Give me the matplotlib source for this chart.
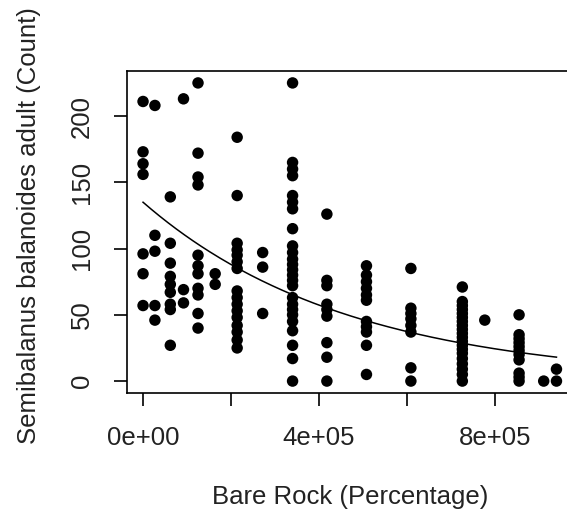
import numpy as np
import matplotlib
matplotlib.use("Agg")
import matplotlib.pyplot as plt

plt.rcParams["font.family"] = ["Liberation Sans", "DejaVu Sans"]

# bare rock values (one entry per sampled level) and barnacle counts at each level
bare_rock = [0, 27000, 62000, 92000, 125000, 164000, 214000, 272000, 340000,
             418000, 508000, 609000, 726000, 777000, 855000, 911000, 940000]
counts = [
    [211, 173, 164, 156, 96, 81, 57],
    [208, 110, 98, 57, 46],
    [139, 104, 89, 79, 73, 67, 58, 54, 27],
    [213, 69, 59],
    [225, 172, 154, 148, 95, 87, 81, 70, 65, 51, 40],
    [81, 73],
    [184, 140, 104, 99, 95, 90, 85, 68, 63, 58, 53, 48, 42, 37, 31, 25],
    [97, 86, 51],
    [225, 165, 160, 155, 140, 135, 130, 115, 102, 97, 92, 88, 84, 80, 76, 72,
     63, 58, 54, 50, 45, 38, 27, 17, 0],
    [126, 76, 72, 58, 54, 49, 29, 18, 0],
    [87, 80, 75, 70, 65, 61, 45, 41, 37, 27, 5],
    [85, 55, 51, 47, 42, 37, 10, 0],
    [71, 60, 57, 54, 51, 48, 45, 42, 39, 36, 33, 30, 27, 24, 21, 17, 13, 9, 5, 0],
    [46],
    [50, 35, 32, 29, 26, 23, 20, 16, 6, 3, 0],
    [0],
    [9, 0],
]

# poisson glm fit (log link)
glm_intercept = 4.905
glm_slope = -2.14e-6

x_ticks = [0, 200000, 400000, 600000, 800000]
x_tick_labels = ["0e+00", "", "4e+05", "", "8e+05"]
y_ticks = [0, 50, 100, 150, 200]
y_tick_labels = ["0", "50", "100", "150", "200"]

x = np.concatenate([[b] * len(c) for b, c in zip(bare_rock, counts)])
y = np.concatenate(counts)

W, H = 567, 515
fig = plt.figure(figsize=(W / 100, H / 100), dpi=100)
left, right, top, bottom = 126.5, 573, 71, 393
ax = fig.add_axes([left / W, 1 - bottom / H, (right - left) / W, (bottom - top) / H])

ax.scatter(x, y, s=68, color="black", edgecolors="none", zorder=3)

xs = np.linspace(0, max(bare_rock), 200)
ax.plot(xs, np.exp(glm_intercept + glm_slope * xs), color="black", lw=1.1)

ax.set_xlim(-37600, 977600)
ax.set_ylim(-9, 234)
ax.set_xticks(x_ticks)
ax.set_xticklabels(x_tick_labels)
ax.set_yticks(y_ticks)
ax.set_yticklabels(y_tick_labels, rotation=90, va="center")

for s in ax.spines.values():
    s.set_linewidth(1.2)
    s.set_color("black")
    s.set_clip_on(False)

ax.tick_params(direction="out", length=9.5, width=1.2, labelsize=18.5, pad=14,
               colors="black", labelcolor="#222222")

fig.text((left + right) / 2 / W, 1 - 497 / H, "Bare Rock (Percentage)",
         ha="center", va="center", fontsize=18.5, color="#222222")
fig.text(29 / W, 1 - 226 / H, "Semibalanus balanoides adult (Count)",
         ha="center", va="center", rotation=90, fontsize=18.5, color="#222222")

fig.savefig("out.png", dpi=100)
